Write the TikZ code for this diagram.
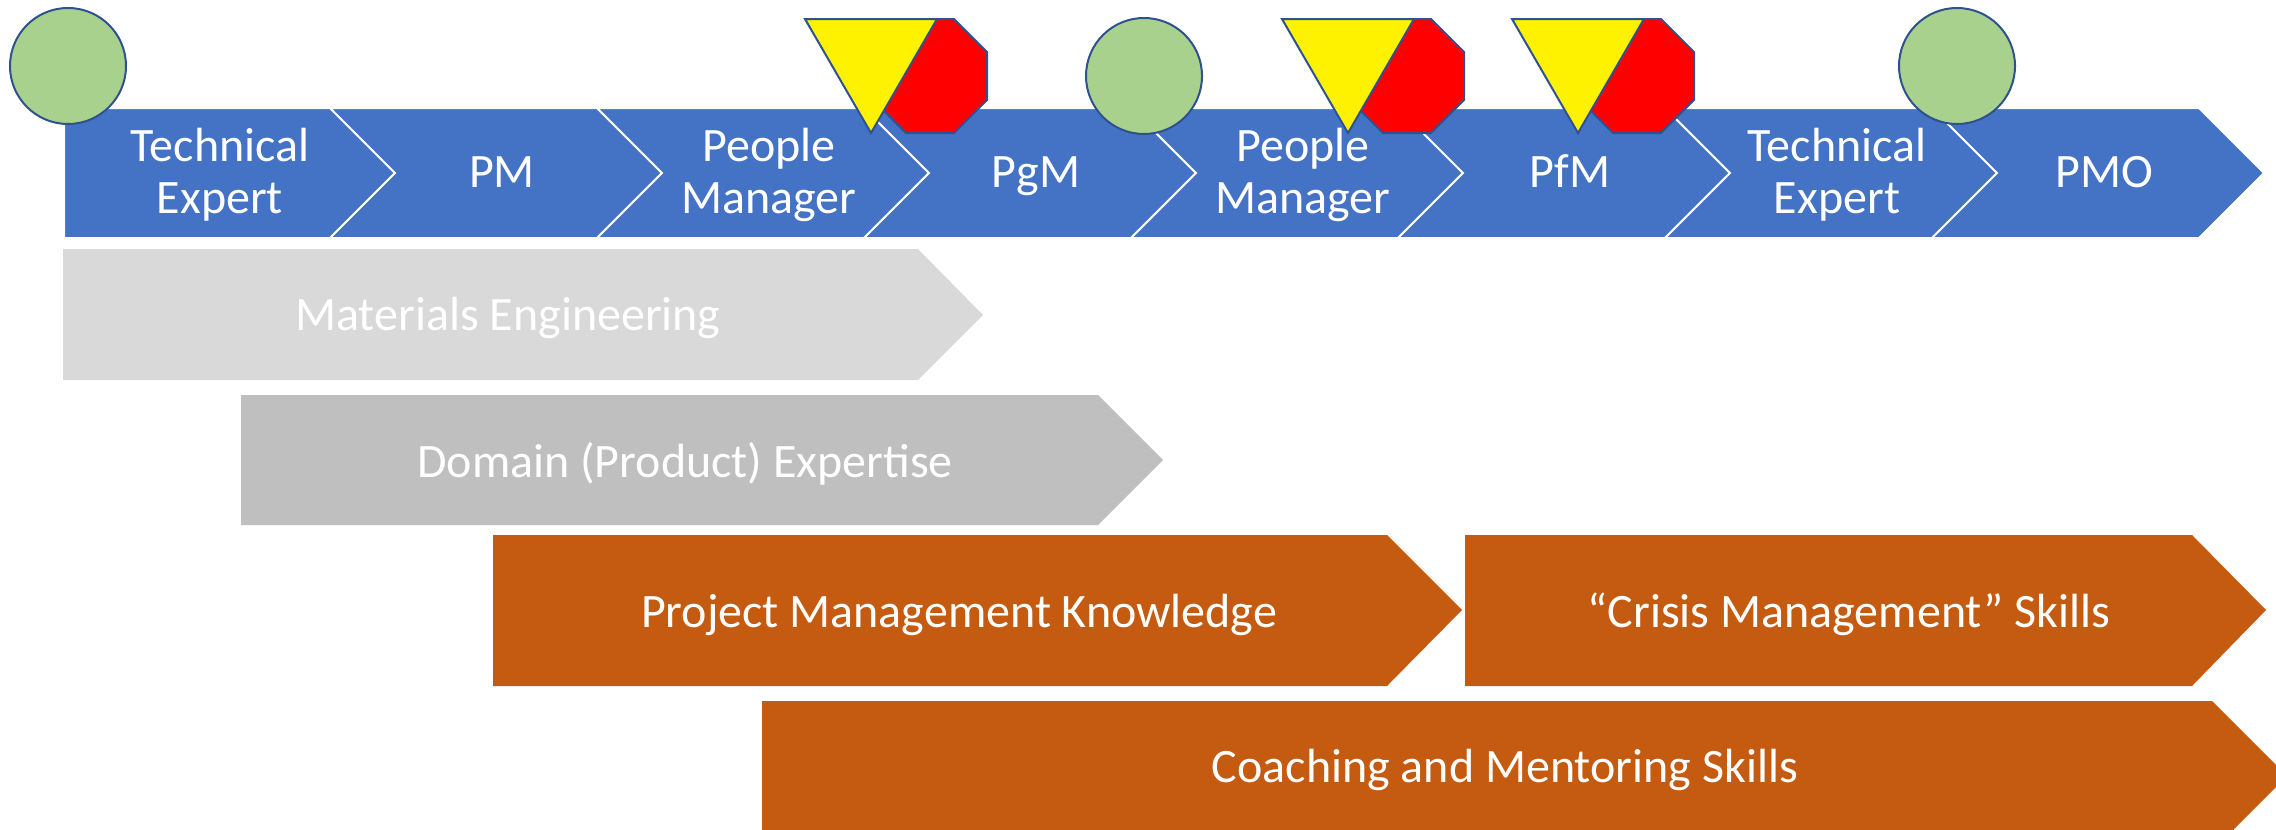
\documentclass[tikz,border=0pt]{standalone}
\usepackage{fontspec}
\setmainfont{Carlito}
\definecolor{cBlue}{HTML}{4472C4}
\definecolor{cLGray}{HTML}{D9D9D9}
\definecolor{cGray}{HTML}{BFBFBF}
\definecolor{cOrange}{HTML}{C55A11}
\definecolor{cGreen}{HTML}{A9D18E}
\definecolor{cEdge}{HTML}{2F528F}
\begin{document}
\begin{tikzpicture}[x=0.5pt,y=-0.5pt,
  bluechev/.style={fill=cBlue, draw=white, line width=1pt, line join=miter},
  lbl/.style={text=white, font=\fontsize{24pt}{26pt}\selectfont, align=center, inner sep=0pt},
  greendot/.style={circle, draw=cEdge, fill=cGreen, line width=1pt, minimum size=58pt, inner sep=0pt},
  marker/.style={draw=cEdge, line width=1pt, line join=miter}]
\useasboundingbox (0,0) rectangle (2276,830);
\clip (0,0) rectangle (2276,830);

% ---- top chevron process ----
\path[bluechev] (64,108) -- (330,108) -- (395,173) -- (330,238) -- (64,238) -- cycle;
\foreach \k in {1,...,7}{
  \pgfmathsetmacro{\n}{330+267*(\k-1)}
  \pgfmathsetmacro{\b}{\n+267}
  \path[bluechev] (\n,108) -- (\b,108) -- (\b+65,173) -- (\b,238) -- (\n,238) -- (\n+65,173) -- cycle;
}
\node[lbl] (s0) at (220,175) {Technical\\Expert};
\node[lbl, anchor=base] (s1) at (502,187) {PM};
\node[lbl] (s2) at (769,175) {People\\Manager};
\node[lbl, anchor=base] (s3) at (1036,187) {PgM};
\node[lbl] (s4) at (1303,175) {People\\Manager};
\node[lbl, anchor=base] (s5) at (1570,187) {PfM};
\node[lbl] (s6) at (1837,175) {Technical\\Expert};
\node[lbl, anchor=base] (s7) at (2104,187) {PMO};

% ---- skill bands ----
\fill[cLGray] (63,249) -- (918,249) -- (983,315) -- (918,380) -- (63,380) -- cycle;
\node[lbl, anchor=base] (b1) at (508,330) {Materials Engineering};

\fill[cGray] (241,395) -- (1098,395) -- (1163,460) -- (1098,525) -- (241,525) -- cycle;
\node[lbl, anchor=base] (b2) at (685,477) {Domain (Product) Expertise};

\fill[cOrange] (493,535) -- (1387,535) -- (1462,610) -- (1387,686) -- (493,686) -- cycle;
\node[lbl, anchor=base] (b3) at (959,627) {Project Management Knowledge};

\fill[cOrange] (1465,535) -- (2192,535) -- (2266,610) -- (2192,686) -- (1465,686) -- cycle;
\node[lbl, anchor=base] (b4) at (1849,627) {“Crisis Management” Skills};

\fill[cOrange] (762,701) -- (2212,701) -- (2287,776) -- (2212,851) -- (762,851) -- cycle;
\node[lbl, anchor=base] (b5) at (1505,782) {Coaching and Mentoring Skills};

% ---- markers ----
\node[greendot] (g1) at (68,66) {};
\node[greendot] (g2) at (1144,76) {};
\node[greendot] (g3) at (1957,66) {};

\foreach \t in {805,1282,1512}{
  \begin{scope}[shift={(\t,0)}]
    \path[marker, fill=red] (101,19) -- (149,19) -- (182,52) -- (182,100) -- (149,133) -- (101,133) -- (68,100) -- (68,52) -- cycle;
    \path[marker, fill=yellow] (0,19) -- (132,19) -- (66,133) -- cycle;
  \end{scope}
}
\end{tikzpicture}
\end{document}
